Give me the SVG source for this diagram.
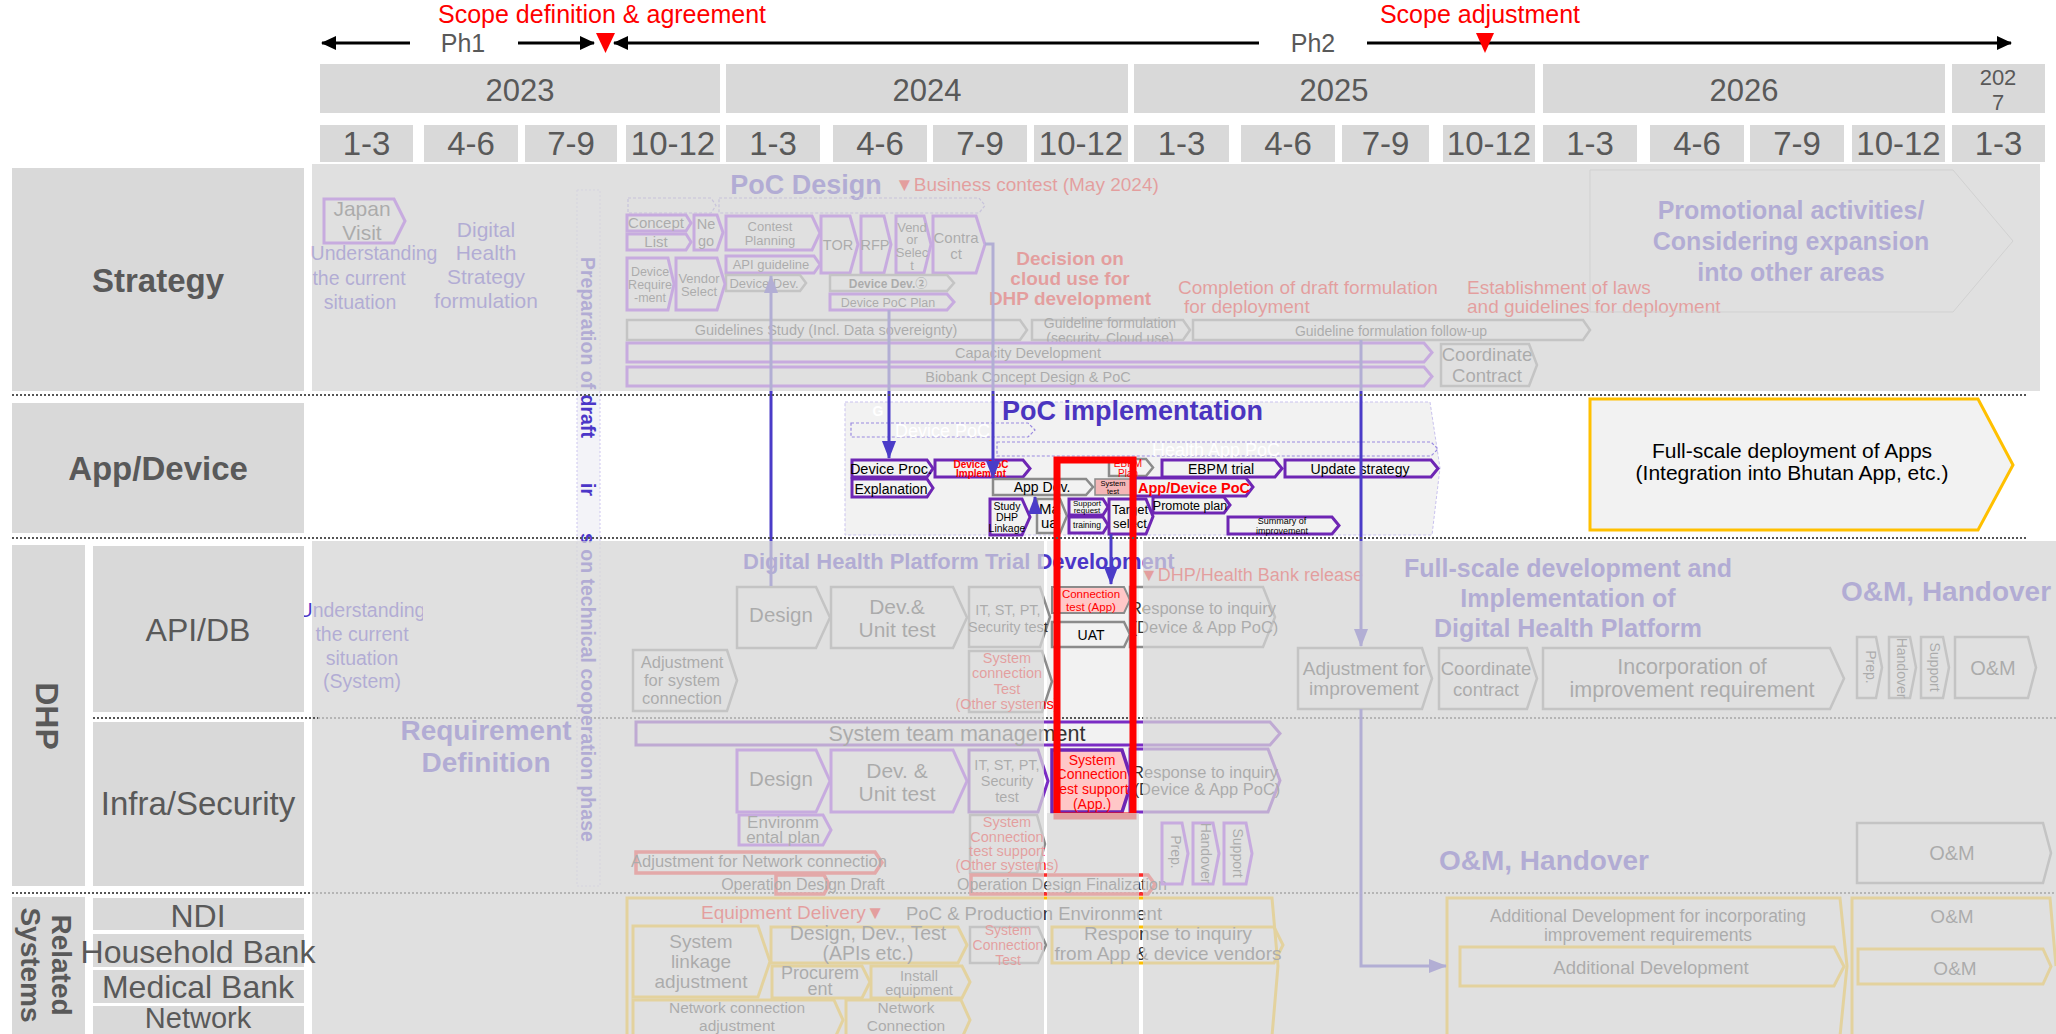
<svg xmlns="http://www.w3.org/2000/svg" width="2056" height="1034" viewBox="0 0 2056 1034">
<defs>
<style>
text{font-family:"Liberation Sans",Arial,"Noto Sans CJK JP",sans-serif}
.m{text-anchor:middle}
.b{font-weight:bold}
.hb{fill:#d9d9d9}
.ht{fill:#595959;text-anchor:middle}
.lb{fill:#d9d9d9}
.lt{fill:#595959;text-anchor:middle}
.pu{fill:none;stroke:#9933ee;stroke-width:3}
.pm{fill:none;stroke:#7a2cc4;stroke-width:3}
.pd{fill:none;stroke:#6e26b4;stroke-width:3}
.gr{fill:none;stroke:#8b8b8b;stroke-width:2.5}
.ye{fill:none;stroke:#ffc000;stroke-width:3}
.rb{fill:none;stroke:#ff2a2a;stroke-width:3.5}
.dsh{fill:none;stroke:#9a8ae0;stroke-width:1.2;stroke-dasharray:3 2}
.g3{fill:#333}
.k{fill:#000}
.bl{fill:#4b36c8}
.rd{fill:#ff0000}
.w{fill:#fff}
.conn{fill:none;stroke:#4b3cc8;stroke-width:3}
.ov{fill:#d9d9d9;fill-opacity:0.73}
.dot{stroke:#555;stroke-width:2;stroke-dasharray:2 2}
</style>
<marker id="ah" viewBox="0 0 18 14" refX="17" refY="7" markerWidth="18" markerHeight="14" markerUnits="userSpaceOnUse" orient="auto"><path d="M0,0 L18,7 L0,14 z" fill="#4b3cc8"/></marker>
<marker id="abk" viewBox="0 0 15 14" refX="14" refY="7" markerWidth="15" markerHeight="14" markerUnits="userSpaceOnUse" orient="auto"><path d="M0,0 L15,7 L0,14 z" fill="#000"/></marker>
<clipPath id="cu"><rect x="0" y="590" width="423" height="110"/></clipPath>
</defs>
<rect width="2056" height="1034" fill="#fff"/>

<g id="timeline">
<text x="602" y="23" class="m" font-size="25" fill="#ff0000">Scope definition &amp; agreement</text>
<text x="1480" y="23" class="m" font-size="25" fill="#ff0000">Scope adjustment</text>
<g stroke="#000" stroke-width="3" fill="none">
<path d="M410,43 H322" marker-end="url(#abk)"/>
<path d="M518,43 H594" marker-end="url(#abk)"/>
<path d="M1259,43 H614" marker-end="url(#abk)"/>
<path d="M1367,43 H2011" marker-end="url(#abk)"/>
</g>
<text x="463" y="52" class="m" font-size="25" fill="#595959">Ph1</text>
<text x="1313" y="52" class="m" font-size="25" fill="#595959">Ph2</text>
<polygon points="596,33 615,33 605.5,53" fill="#ff0000"/>
<polygon points="1476,33 1494,33 1485,53" fill="#ff0000"/>
</g>

<g id="years">
<rect class="hb" x="320" y="64" width="400" height="49"/>
<rect class="hb" x="726" y="64" width="402" height="49"/>
<rect class="hb" x="1134" y="64" width="401" height="49"/>
<rect class="hb" x="1543" y="64" width="402" height="49"/>
<rect class="hb" x="1952" y="64" width="93" height="49"/>
<text class="ht" font-size="31" x="520" y="101">2023</text>
<text class="ht" font-size="31" x="927" y="101">2024</text>
<text class="ht" font-size="31" x="1334" y="101">2025</text>
<text class="ht" font-size="31" x="1744" y="101">2026</text>
<text class="ht" font-size="22" x="1998" y="85">202</text>
<text class="ht" font-size="22" x="1998" y="110">7</text>
</g>

<g id="quarters">
<rect class="hb" x="320" y="125" width="93" height="37"/>
<rect class="hb" x="424" y="125" width="94" height="37"/>
<rect class="hb" x="525" y="125" width="92" height="37"/>
<rect class="hb" x="626" y="125" width="94" height="37"/>
<rect class="hb" x="726" y="125" width="94" height="37"/>
<rect class="hb" x="833" y="125" width="94" height="37"/>
<rect class="hb" x="933" y="125" width="94" height="37"/>
<rect class="hb" x="1034" y="125" width="94" height="37"/>
<rect class="hb" x="1134" y="125" width="95" height="37"/>
<rect class="hb" x="1241" y="125" width="94" height="37"/>
<rect class="hb" x="1342" y="125" width="87" height="37"/>
<rect class="hb" x="1443" y="125" width="92" height="37"/>
<rect class="hb" x="1543" y="125" width="94" height="37"/>
<rect class="hb" x="1650" y="125" width="94" height="37"/>
<rect class="hb" x="1750" y="125" width="94" height="37"/>
<rect class="hb" x="1852" y="125" width="93" height="37"/>
<rect class="hb" x="1952" y="125" width="93" height="37"/>
<g class="ht" font-size="33">
<text x="366.5" y="155">1-3</text><text x="471" y="155">4-6</text><text x="571" y="155">7-9</text><text x="673" y="155">10-12</text>
<text x="773" y="155">1-3</text><text x="880" y="155">4-6</text><text x="980" y="155">7-9</text><text x="1081" y="155">10-12</text>
<text x="1181.5" y="155">1-3</text><text x="1288" y="155">4-6</text><text x="1385.5" y="155">7-9</text><text x="1489" y="155">10-12</text>
<text x="1590" y="155">1-3</text><text x="1697" y="155">4-6</text><text x="1797" y="155">7-9</text><text x="1898.5" y="155">10-12</text>
<text x="1998.5" y="155">1-3</text>
</g>
</g>

<g id="panels">
<rect x="312" y="164" width="1728" height="227" fill="#f2f2f2"/>
<rect x="312" y="541" width="1744" height="493" fill="#f2f2f2"/>
<rect x="1044" y="541" width="3" height="493" fill="#fff"/>
<rect x="1139" y="541" width="4" height="493" fill="#fff"/>
<rect x="577" y="190" width="23" height="696" fill="#f3f3f8" stroke="#cdc6f0" stroke-width="1" stroke-dasharray="2 2"/>
<polygon points="845,402 1430,402 1440,468 1432,535 845,535" fill="#f2f2f2" stroke="#c9c2ee" stroke-width="1" stroke-dasharray="3 2"/>
<line class="dot" x1="318" y1="718" x2="2056" y2="718"/>
<line class="dot" x1="312" y1="893" x2="2056" y2="893"/>
</g>

<!-- Strategy row -->
<g id="japan-visit"><polygon class="pu" points="324,199 394,199 405,221 394,243 324,243"/><text class="m g3" font-size="21"><tspan x="362" y="216">Japan</tspan><tspan x="362" y="240">Visit</tspan></text></g>
<g id="understanding"><text class="m bl" font-size="19.5"><tspan x="374" y="260">Understanding</tspan><tspan x="359" y="285">the current</tspan><tspan x="360" y="309">situation</tspan></text></g>
<g id="dh-strategy"><text class="m bl" font-size="21"><tspan x="486" y="237">Digital</tspan><tspan x="486" y="260">Health</tspan><tspan x="486" y="284">Strategy</tspan><tspan x="486" y="308">formulation</tspan></text></g>
<g id="prep-draft">
<text transform="translate(581,257) rotate(90)" class="b bl" font-size="19.5">Preparation of draft</text>
<text transform="translate(581,483) rotate(90)" class="b bl" font-size="19.5">ir</text>
<text transform="translate(581,533) rotate(90)" class="b bl" font-size="19.5">s on technical cooperation phase</text>
</g>
<g id="poc-design"><text x="806" y="194" class="m b bl" font-size="27">PoC Design</text></g>
<g id="business-contest"><text x="895" y="191" class="rd" font-size="19">▼Business contest (May 2024)</text></g>
<g id="poc-design-phases"><polygon class="dsh" points="628,198 711,198 716,205.5 711,213 628,213"/><polygon class="dsh" points="719,198 979,198 985,205.5 979,213 719,213"/></g>
<g id="concept"><polygon class="pu" points="627,215 686,215 691,223 686,231 627,231"/><text x="656" y="228" class="m g3" font-size="15">Concept</text></g>
<g id="list"><polygon class="pu" points="627,234 686,234 691,242 686,250 627,250"/><text x="656" y="247" class="m g3" font-size="15">List</text></g>
<g id="nego"><polygon class="pu" points="694,215 717,215 723,232.5 717,250 694,250"/><text class="m g3" font-size="14.5"><tspan x="706" y="229">Ne</tspan><tspan x="706" y="246">go</tspan></text></g>
<g id="contest-planning"><polygon class="pu" points="726,216 812,216 820,233 812,250 726,250"/><text class="m g3" font-size="13"><tspan x="770" y="231">Contest</tspan><tspan x="770" y="245">Planning</tspan></text></g>
<g id="api-guideline"><polygon class="pu" points="726,256 814,256 820,264.5 814,273 726,273"/><text x="771" y="269" class="m g3" font-size="13">API guideline</text></g>
<g id="device-dev"><polygon class="gr" points="726,275 800,275 806,283 800,291 726,291"/><text x="764" y="288" class="m g3" font-size="13">Device Dev.</text></g>
<g id="device-req"><polygon class="pu" points="627,258 668,258 674,284 668,310 627,310"/><text class="m g3" font-size="12.5"><tspan x="650" y="276">Device</tspan><tspan x="650" y="289">Require</tspan><tspan x="650" y="302">-ment</tspan></text></g>
<g id="vendor-select"><polygon class="pu" points="676,258 717,258 725,284 717,310 676,310"/><text class="m g3" font-size="13"><tspan x="699" y="283">Vendor</tspan><tspan x="699" y="296">Select</tspan></text></g>
<g id="tor"><polygon class="pu" points="821,216 850,216 858,244.5 850,273 821,273"/><text x="838" y="250" class="m g3" font-size="14.5">TOR</text></g>
<g id="rfp"><polygon class="pu" points="861,216 884,216 891,244.5 884,273 861,273"/><text x="875" y="250" class="m g3" font-size="14.5">RFP</text></g>
<g id="vendor-select-2"><polygon class="pu" points="896,216 924,216 931,244.5 924,273 896,273"/><text class="m g3" font-size="13"><tspan x="912" y="232">Vend</tspan><tspan x="912" y="244">or</tspan><tspan x="912" y="257">Selec</tspan><tspan x="912" y="270">t</tspan></text></g>
<g id="contract"><polygon class="pu" points="933,216 976,216 985,244.5 976,273 933,273"/><text class="m g3" font-size="15"><tspan x="956" y="243">Contra</tspan><tspan x="956" y="259">ct</tspan></text></g>
<g id="device-dev-2"><polygon class="gr" points="830,275 947,275 954,283 947,291 830,291"/><text x="888" y="288" class="m b g3" font-size="12">Device Dev.②</text></g>
<g id="device-poc-plan"><polygon class="pu" points="830,294 947,294 954,302 947,310 830,310"/><text x="888" y="307" class="m g3" font-size="12.5">Device PoC Plan</text></g>
<g id="guidelines-study"><polygon class="gr" points="627,320 1020,320 1027,330 1020,340 627,340"/><text x="826" y="335" class="m g3" font-size="14.5">Guidelines Study (Incl. Data sovereignty)</text></g>
<g id="guideline-formulation"><polygon class="gr" points="1032,320 1183,320 1190,330 1183,340 1032,340"/><text class="m g3" font-size="14"><tspan x="1110" y="328">Guideline formulation</tspan><tspan x="1110" y="343">(security, Cloud use)</tspan></text></g>
<g id="guideline-followup"><polygon class="gr" points="1193,320 1583,320 1590,330 1583,340 1193,340"/><text x="1391" y="336" class="m g3" font-size="14">Guideline formulation follow-up</text></g>
<g id="capacity-dev"><polygon class="pu" style="fill:#f2f2f2" points="627,343 1424,343 1432,352.5 1424,362 627,362"/><text x="1028" y="358" class="m g3" font-size="14.5">Capacity Development</text></g>
<g id="biobank"><polygon class="pu" points="627,367 1424,367 1432,376.5 1424,386 627,386"/><text x="1028" y="382" class="m g3" font-size="14.5">Biobank Concept Design &amp; PoC</text></g>
<g id="coordinate-contract-1"><polygon class="gr" points="1441,344 1529,344 1537,365 1529,386 1441,386"/><text class="m g3" font-size="18.5"><tspan x="1487" y="361">Coordinate</tspan><tspan x="1487" y="382">Contract</tspan></text></g>
<g id="decision-cloud"><text class="m b rd" font-size="19"><tspan x="1070" y="265">Decision on</tspan><tspan x="1070" y="285">cloud use for</tspan><tspan x="1070" y="305">DHP development</tspan></text></g>
<g id="completion-draft"><text class="rd" font-size="19"><tspan x="1178" y="294">Completion of draft formulation</tspan><tspan x="1184" y="313">for deployment</tspan></text></g>
<g id="establishment-laws"><text class="rd" font-size="19"><tspan x="1467" y="294">Establishment of laws</tspan><tspan x="1467" y="313">and guidelines for deployment</tspan></text></g>
<g id="promotional"><polygon points="1590,170 1953,170 2013,241 1953,312 1590,312" fill="none" stroke="#bdbdbd" stroke-width="1"/><text class="m b bl" font-size="25"><tspan x="1791" y="219">Promotional activities/</tspan><tspan x="1791" y="250">Considering expansion</tspan><tspan x="1791" y="281">into other areas</tspan></text></g>

<!-- App/Device row -->
<g id="poc-implementation"><text x="1002" y="420" class="b" font-size="27" fill="#4b35c0">PoC implementation</text><text x="878" y="416" class="m b w" font-size="14">G</text></g>
<g id="device-poc"><polygon class="dsh" points="851,423 1028,423 1035,430 1028,437 851,437"/><text x="895" y="437" class="w" font-size="18">Device PoC</text></g>
<g id="health-app-poc"><polygon class="dsh" points="997,442 1431,442 1438,449 1431,456 997,456"/><text x="1152" y="456" class="w" font-size="18">Health App PoC</text></g>
<g id="device-proc"><polygon class="pd" points="852,460 927,460 933,468.5 927,477 852,477"/><text x="891" y="474" class="m k" font-size="14.5">Device Proc.</text></g>
<g id="explanation"><polygon class="pd" points="852,479 927,479 933,488 927,497 852,497"/><text x="891" y="494" class="m k" font-size="14">Explanation</text></g>
<g id="device-poc-impl"><polygon class="pd" points="935,460 1023,460 1030,468.5 1023,477 935,477"/><text class="m b rd" font-size="10"><tspan x="981" y="468">Device PoC</tspan><tspan x="981" y="477">Implement</tspan></text></g>
<g id="app-dev"><polygon class="gr" points="993,479 1086,479 1093,487 1086,495 993,495"/><text x="1042" y="492" class="m k" font-size="14">App Dev.</text></g>
<g id="system-test"><rect x="1095" y="479" width="37" height="16" fill="#f4b6b6" stroke="#8b8b8b" stroke-width="1.5"/><text class="m k" font-size="7.5"><tspan x="1113" y="486">System</tspan><tspan x="1113" y="494">test</tspan></text></g>
<g id="ebpm-plan"><polygon class="gr" points="1109,459 1146,459 1153,467.5 1146,476 1109,476"/><text class="m rd" font-size="10"><tspan x="1128" y="467">EBPM</tspan><tspan x="1128" y="477">Plan</tspan></text></g>
<g id="app-device-poc"><polygon class="pd" points="1135,478 1246,478 1253,487 1246,496 1135,496"/><text x="1138" y="493" class="b rd" font-size="14.5">App/Device PoC</text></g>
<g id="ebpm-trial"><polygon class="pd" points="1162,460 1275,460 1282,468.5 1275,477 1162,477"/><text x="1221" y="474" class="m k" font-size="14">EBPM trial</text></g>
<g id="update-strategy"><polygon class="pd" points="1285,460 1431,460 1438,468.5 1431,477 1285,477"/><text x="1360" y="474" class="m k" font-size="14">Update strategy</text></g>
<g id="study-dhp"><polygon class="pd" points="990,499 1022,499 1030,517 1022,535 990,535"/><text class="m k" font-size="10.5"><tspan x="1007" y="510">Study</tspan><tspan x="1007" y="521">DHP</tspan><tspan x="1007" y="532">Linkage</tspan></text></g>
<g id="manual"><polygon class="gr" points="1037,499 1060,499 1067,516 1060,533 1037,533"/><text class="k" font-size="15"><tspan x="1039" y="514">Ma</tspan><tspan x="1041" y="528">ua</tspan></text></g>
<g id="support-request"><polygon class="pd" points="1069,499 1103,499 1108,507 1103,515 1069,515"/><text class="m k" font-size="8"><tspan x="1087" y="506">Support</tspan><tspan x="1087" y="513">request</tspan></text></g>
<g id="training"><polygon class="pd" points="1069,517 1103,517 1108,525 1103,533 1069,533"/><text x="1087" y="528" class="m k" font-size="8.5">training</text></g>
<g id="target-select"><polygon class="pd" points="1109,499 1146,499 1153,516.5 1146,534 1109,534"/><text class="m k" font-size="13"><tspan x="1130" y="514">Target</tspan><tspan x="1130" y="528">select</tspan></text></g>
<g id="promote-plan"><polygon class="pd" points="1153,497 1224,497 1230,505 1224,513 1153,513"/><text x="1190" y="510" class="m k" font-size="12.5">Promote plan</text></g>
<g id="summary"><polygon class="pd" points="1228,517 1332,517 1339,525.5 1332,534 1228,534"/><text class="m k" font-size="9"><tspan x="1282" y="524">Summary of</tspan><tspan x="1282" y="534">improvement</tspan></text></g>
<g id="full-scale-apps"><polygon points="1590,399 1978,399 2013,465 1978,530 1590,530" fill="#f2f2f2" stroke="#ffc000" stroke-width="3"/><text class="m k" font-size="21"><tspan x="1792" y="458">Full-scale deployment of Apps</tspan><tspan x="1792" y="480">(Integration into Bhutan App, etc.)</tspan></text></g>

<!-- DHP rows -->
<g id="understanding-system"><g clip-path="url(#cu)"><text class="m bl" font-size="19.5"><tspan x="362" y="617">Understanding</tspan><tspan x="362" y="641">the current</tspan><tspan x="362" y="665">situation</tspan><tspan x="362" y="688">(System)</tspan></text></g></g>
<g id="requirement-def"><text class="m b bl" font-size="28"><tspan x="486" y="740">Requirement</tspan><tspan x="486" y="772">Definition</tspan></text></g>
<g id="dhp-trial"><text x="743" y="569" class="b bl" font-size="22">Digital Health Platform Trial Development</text></g>
<g id="design-api"><polygon class="gr" points="737,587 816,587 830,617.5 816,648 737,648"/><text x="781" y="622" class="m g3" font-size="20.5">Design</text></g>
<g id="dev-unit-api"><polygon class="gr" points="831,587 953,587 967,617.5 953,648 831,648"/><text class="m g3" font-size="21"><tspan x="897" y="614">Dev.&amp;</tspan><tspan x="897" y="637">Unit test</tspan></text></g>
<g id="it-st-api"><polygon class="gr" points="969,587 1040,587 1050,617 1040,647 969,647"/><text class="m g3" font-size="14.5"><tspan x="1008" y="615">IT, ST, PT,</tspan><tspan x="1008" y="632">Security test</tspan></text></g>
<g id="adj-sys-conn"><polygon class="gr" points="633,650 727,650 737,680.5 727,711 633,711"/><text class="m g3" font-size="16.5"><tspan x="682" y="668">Adjustment</tspan><tspan x="682" y="686">for system</tspan><tspan x="682" y="704">connection</tspan></text></g>
<g id="sys-conn-test-other"><polygon class="gr" points="969,651 1042,651 1052,681.5 1042,712 969,712"/><text class="m rd" font-size="14.5"><tspan x="1007" y="663">System</tspan><tspan x="1007" y="678">connection</tspan><tspan x="1007" y="694">Test</tspan><tspan x="1007" y="709">(Other systems)</tspan></text></g>
<g id="conn-test-app"><polygon points="1052,587 1124,587 1130,600 1124,613 1052,613" fill="#ffc7c7" stroke="#8b8b8b" stroke-width="2"/><text class="m rd" font-size="11.5"><tspan x="1091" y="598">Connection</tspan><tspan x="1091" y="611">test (App)</tspan></text></g>
<g id="uat"><polygon class="gr" points="1052,622 1124,622 1130,634.5 1124,647 1052,647"/><text x="1091" y="640" class="m k" font-size="14">UAT</text></g>
<g id="response-api"><polygon class="gr" points="1130,587 1263,587 1275,617 1263,647 1130,647"/><text class="m g3" font-size="16.5"><tspan x="1203" y="614">Response to inquiry</tspan><tspan x="1205" y="633">(Device &amp; App PoC)</tspan></text></g>
<g id="dhp-release"><text x="1140" y="581" class="rd" font-size="18">▼DHP/Health Bank release</text></g>
<g id="full-scale-dev"><text class="m b bl" font-size="25"><tspan x="1568" y="577">Full-scale development and</tspan><tspan x="1568" y="607">Implementation of</tspan><tspan x="1568" y="637">Digital Health Platform</tspan></text></g>
<g id="adj-improvement"><polygon class="gr" points="1298,648 1422,648 1432,678.5 1422,709 1298,709"/><text class="m g3" font-size="19"><tspan x="1364" y="675">Adjustment for</tspan><tspan x="1364" y="695">improvement</tspan></text></g>
<g id="coord-contract-2"><polygon class="gr" points="1439,648 1527,648 1537,678.5 1527,709 1439,709"/><text class="m g3" font-size="18.5"><tspan x="1486" y="675">Coordinate</tspan><tspan x="1486" y="696">contract</tspan></text></g>
<g id="incorporation"><polygon class="gr" points="1543,648 1830,648 1844,678.5 1830,709 1543,709"/><text class="m g3" font-size="21.5"><tspan x="1692" y="674">Incorporation of</tspan><tspan x="1692" y="697">improvement requirement</tspan></text></g>
<g id="om-handover-api"><text x="1841" y="601" class="b bl" font-size="28">O&amp;M, Handover</text></g>
<g id="prep-api"><polygon class="gr" points="1857,637 1876,637 1882,667.5 1876,698 1857,698"/><text transform="translate(1866,667) rotate(90)" class="m g3" font-size="14">Prep.</text></g>
<g id="handover-api"><polygon class="gr" points="1889,637 1910,637 1916,667.5 1910,698 1889,698"/><text transform="translate(1897,668) rotate(90)" class="m g3" font-size="14">Handover</text></g>
<g id="support-api"><polygon class="gr" points="1921,637 1943,637 1949,667.5 1943,698 1921,698"/><text transform="translate(1930,667) rotate(90)" class="m g3" font-size="14">Support</text></g>
<g id="om-api"><polygon class="gr" points="1955,637 2028,637 2036,667.5 2028,698 1955,698"/><text x="1993" y="675" class="m g3" font-size="20">O&amp;M</text></g>
<g id="sys-team-mgmt"><polygon class="pm" points="636,722 1270,722 1280,733.5 1270,745 636,745"/><text x="957" y="741" class="m g3" font-size="21.5">System team management</text></g>
<g id="design-infra"><polygon class="pu" points="737,750 816,750 830,781 816,812 737,812"/><text x="781" y="786" class="m g3" font-size="20.5">Design</text></g>
<g id="dev-unit-infra"><polygon class="pu" points="831,750 953,750 967,781 953,812 831,812"/><text class="m g3" font-size="21"><tspan x="897" y="778">Dev. &amp;</tspan><tspan x="897" y="801">Unit test</tspan></text></g>
<g id="it-st-infra"><polygon class="pm" points="969,750 1038,750 1048,781 1038,812 969,812"/><text class="m g3" font-size="14.5"><tspan x="1007" y="770">IT, ST, PT,</tspan><tspan x="1007" y="786">Security</tspan><tspan x="1007" y="802">test</tspan></text></g>
<g id="sys-conn-app"><polygon points="1052,750 1122,750 1132,781 1122,812 1052,812" fill="#ffc7c7" stroke="#6e26b4" stroke-width="3.5"/><text class="m rd" font-size="14"><tspan x="1092" y="765">System</tspan><tspan x="1092" y="779">Connection</tspan><tspan x="1092" y="794">test support</tspan><tspan x="1092" y="809">(App.)</tspan></text></g>
<g id="response-infra"><polygon class="pm" points="1130,749 1268,749 1280,780.5 1268,812 1130,812"/><text class="m g3" font-size="16.5"><tspan x="1205" y="778">Response to inquiry</tspan><tspan x="1207" y="795">(Device &amp; App PoC)</tspan></text></g>
<g id="env-plan"><polygon class="pu" points="739,815 823,815 831,830 823,845 739,845"/><text class="m g3" font-size="17"><tspan x="783" y="828">Environm</tspan><tspan x="783" y="843">ental plan</tspan></text></g>
<g id="adj-network"><polygon class="rb" points="636,852 875,852 882,862.5 875,873 636,873"/><text x="759" y="867" class="m g3" font-size="16.5">Adjustment for Network connection</text></g>
<g id="sys-conn-other-infra"><polygon class="gr" points="970,815 1037,815 1045,844 1037,873 970,873"/><text class="m rd" font-size="14.5"><tspan x="1007" y="827">System</tspan><tspan x="1007" y="842">Connection</tspan><tspan x="1007" y="856">test support</tspan><tspan x="1007" y="870">(Other systems)</tspan></text></g>
<g id="op-design-draft"><polygon class="rb" points="776,875 824,875 829,884.5 824,894 776,894"/><text x="803" y="890" class="m g3" font-size="16">Operation Design Draft</text></g>
<g id="op-design-final"><polygon class="rb" points="971,875 1148,875 1155,884.5 1148,894 971,894"/><text x="957" y="890" class="g3" font-size="16">Operation Design Finalization</text></g>
<g id="prep-infra"><polygon class="pu" points="1162,823 1182,823 1188,853.5 1182,884 1162,884"/><text transform="translate(1171,852) rotate(90)" class="m g3" font-size="14">Prep.</text></g>
<g id="handover-infra"><polygon class="pu" points="1193,823 1213,823 1219,853.5 1213,884 1193,884"/><text transform="translate(1201,853) rotate(90)" class="m g3" font-size="14">Handover</text></g>
<g id="support-infra"><polygon class="pu" points="1224,823 1246,823 1252,853.5 1246,884 1224,884"/><text transform="translate(1233,853) rotate(90)" class="m g3" font-size="14">Support</text></g>
<g id="om-handover-infra"><text x="1544" y="870" class="m b bl" font-size="28">O&amp;M, Handover</text></g>
<g id="om-infra"><polygon class="gr" points="1857,823 2043,823 2051,853 2043,883 1857,883"/><text x="1952" y="860" class="m g3" font-size="20">O&amp;M</text></g>

<!-- Related systems -->
<g id="poc-prod-env"><path class="ye" d="M627,1036 V898 H1272 L1278,966 L1272,1036"/><text x="701" y="919" class="rd" font-size="19">Equipment Delivery▼</text><text x="906" y="920" class="g3" font-size="18.5">PoC &amp; Production Environment</text></g>
<g id="sys-linkage"><polygon class="ye" points="633,926 758,926 770,961.5 758,997 633,997"/><text class="m g3" font-size="19"><tspan x="701" y="948">System</tspan><tspan x="701" y="968">linkage</tspan><tspan x="701" y="988">adjustment</tspan></text></g>
<g id="design-dev-test"><polygon class="ye" points="771,927 958,927 967,945 958,963 771,963"/><text class="m g3" font-size="19.5"><tspan x="868" y="940">Design, Dev., Test</tspan><tspan x="868" y="960">(APIs etc.)</tspan></text></g>
<g id="procurement"><polygon class="ye" points="772,966 862,966 870,982 862,998 772,998"/><text class="m g3" font-size="18"><tspan x="820" y="979">Procurem</tspan><tspan x="820" y="995">ent</tspan></text></g>
<g id="install"><polygon class="ye" points="871,966 962,966 970,982 962,998 871,998"/><text class="m g3" font-size="14.5"><tspan x="919" y="981">Install</tspan><tspan x="919" y="995">equipment</tspan></text></g>
<g id="net-conn-adj"><polygon class="ye" points="633,1000 834,1000 843,1020 834,1040 633,1040"/><text class="m g3" font-size="15.5"><tspan x="737" y="1013">Network connection</tspan><tspan x="737" y="1030.5">adjustment</tspan></text></g>
<g id="net-conn"><polygon class="ye" points="846,1000 961,1000 970,1020 961,1040 846,1040"/><text class="m g3" font-size="15.5"><tspan x="906" y="1013">Network</tspan><tspan x="906" y="1030.5">Connection</tspan></text></g>
<g id="sys-conn-test-rel"><polygon class="gr" points="970,927 1038,927 1046,945 1038,963 970,963"/><text class="m rd" font-size="14"><tspan x="1008" y="935">System</tspan><tspan x="1008" y="950">Connection</tspan><tspan x="1008" y="965">Test</tspan></text></g>
<g id="response-vendors"><polygon class="ye" points="1052,927 1274,927 1283,945 1274,963 1052,963"/><text class="m g3" font-size="19"><tspan x="1168" y="940">Response to inquiry</tspan><tspan x="1168" y="960">from App &amp; device vendors</tspan></text></g>
<g id="additional-dev-container"><path class="ye" d="M1447,1036 V898 H1840 L1847,966 L1840,1036"/><text class="m g3" font-size="17.5"><tspan x="1648" y="922">Additional Development for incorporating</tspan><tspan x="1648" y="941">improvement requirements</tspan></text></g>
<g id="additional-dev"><polygon class="ye" points="1460,947 1834,947 1844,966.5 1834,986 1460,986"/><text x="1651" y="974" class="m g3" font-size="18.5">Additional Development</text></g>
<g id="om-rel-container"><path class="ye" d="M1852,1036 V898 H2050 L2056,966"/><text x="1952" y="923" class="m g3" font-size="19">O&amp;M</text></g>
<g id="om-rel"><polygon class="ye" points="1858,949 2043,949 2051,966.5 2043,984 1858,984"/><text x="1955" y="975" class="m g3" font-size="19">O&amp;M</text></g>

<g id="connectors">
<path class="conn" d="M771,586 V276" marker-end="url(#ah)"/>
<path class="conn" d="M889,310 V458" marker-end="url(#ah)"/>
<path class="conn" d="M985,244 H993 V478" marker-end="url(#ah)"/>
<path class="conn" d="M1035,514 V497" marker-end="url(#ah)"/>
<path class="conn" d="M1111,534 V584" marker-end="url(#ah)"/>
<path class="conn" d="M1361,340 V646" marker-end="url(#ah)"/>
<path class="conn" d="M1361,709 V966 H1446" marker-end="url(#ah)"/>
</g>

<g id="highlight"><rect x="1057" y="460" width="76" height="356" fill="none" stroke="#ff0000" stroke-width="7"/></g>

<g id="fade">
<rect class="ov" x="312" y="164" width="1728" height="227"/>
<rect class="ov" x="312" y="541" width="732" height="493"/>
<rect class="ov" x="1047" y="813" width="92" height="221"/>
<rect class="ov" x="1143" y="541" width="913" height="493"/>
</g>

<g id="separators">
<line class="dot" x1="12" y1="395" x2="2026" y2="395"/>
<line class="dot" x1="12" y1="538" x2="2026" y2="538"/>
<line class="dot" x1="93" y1="718" x2="318" y2="718"/>
<line class="dot" x1="12" y1="893" x2="312" y2="893"/>
</g>

<g id="lbl-strategy"><rect class="lb" x="12" y="168" width="292" height="223"/><text x="158" y="292" class="lt b" font-size="33">Strategy</text></g>
<g id="lbl-app"><rect class="lb" x="12" y="403" width="292" height="130"/><text x="158" y="480" class="lt b" font-size="33">App/Device</text></g>
<g id="lbl-dhp"><rect class="lb" x="12" y="545" width="73" height="341"/><text transform="translate(36,716) rotate(90)" class="lt b" font-size="32">DHP</text></g>
<g id="lbl-api"><rect class="lb" x="93" y="546" width="211" height="166"/><text x="198" y="641" class="lt" font-size="32">API/DB</text></g>
<g id="lbl-infra"><rect class="lb" x="93" y="722" width="211" height="164"/><text x="198" y="815" class="lt" font-size="33">Infra/Security</text></g>
<g id="lbl-related"><rect class="lb" x="12" y="897" width="73" height="137"/><text transform="translate(52,965) rotate(90)" class="lt b" font-size="28">Related</text><text transform="translate(21,965) rotate(90)" class="lt b" font-size="28">Systems</text></g>
<g id="lbl-ndi"><rect class="lb" x="93" y="898" width="211" height="32"/><text x="198" y="927" class="lt" font-size="32">NDI</text></g>
<g id="lbl-household"><rect class="lb" x="93" y="934" width="211" height="33"/><text x="198" y="963" class="lt" font-size="32">Household Bank</text></g>
<g id="lbl-medical"><rect class="lb" x="93" y="970" width="211" height="33"/><text x="198" y="998" class="lt" font-size="32">Medical Bank</text></g>
<g id="lbl-network"><rect class="lb" x="93" y="1006" width="211" height="28"/><text x="198" y="1028" class="lt" font-size="29">Network</text></g>
</svg>
